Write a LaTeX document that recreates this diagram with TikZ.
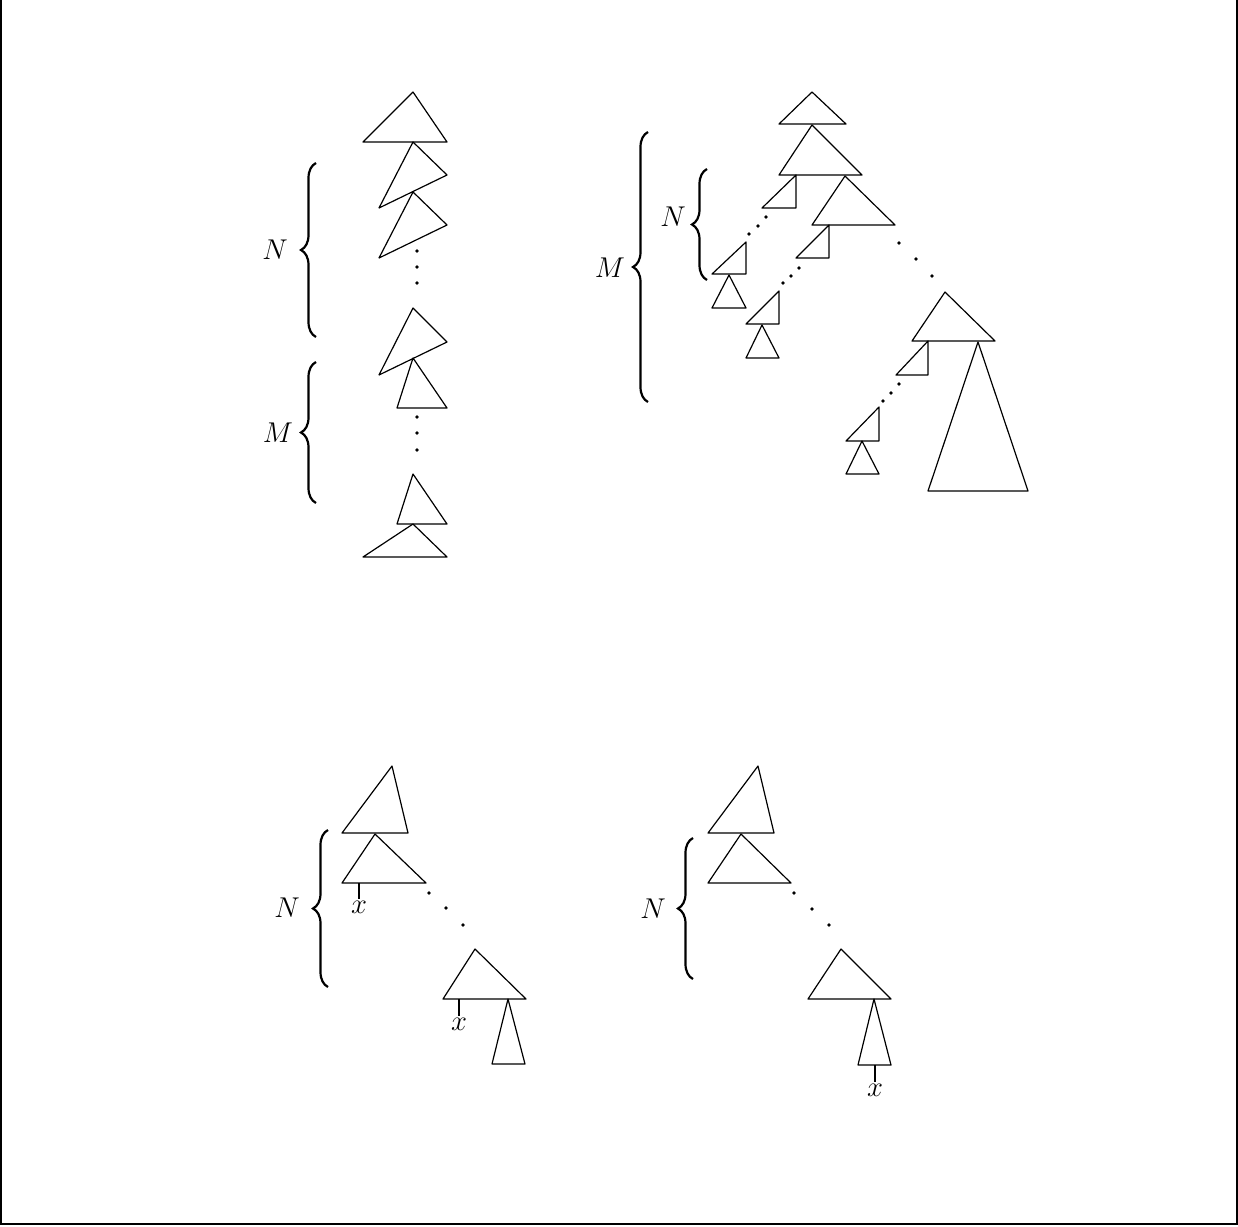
\documentclass[tikz,border=0pt]{standalone}
\usepackage{amsmath,amssymb}
\usepackage{graphicx}
\usetikzlibrary{decorations.pathreplacing}
\newcommand{\lab}[1]{\scalebox{1.15}{$#1$}}

\begin{document}
\begin{tikzpicture}[x=1pt, y=-1pt,
  tri/.style={draw, line width=1.2pt, line join=round},
  stem/.style={draw, line width=1.6pt},
  brc/.style={decorate, decoration={brace, amplitude=15pt}, line width=2.2pt},
  lbl/.style={font=\fontsize{24.88}{30}\selectfont, inner sep=0pt},
  xlbl/.style={font=\fontsize{24.88}{30}\selectfont, anchor=north, inner sep=1pt}]
\useasboundingbox (0,0) rectangle (1238,1226);
\draw[line width=1.5pt] (1,0) -- (1,1224) -- (1237,1224) -- (1237,0);

% top left: chain of rotated subtrees
\draw[tri] (413,92) -- (363,142) -- (447,142) -- cycle;
\draw[tri] (413,142) -- (447,175) -- (379,208) -- cycle;
\draw[tri] (413,192) -- (447,225) -- (379,258) -- cycle;
\foreach \y in {251,267,283} \fill (417,\y) circle (1.8pt);
\draw[tri] (413,308) -- (447,342) -- (379,375) -- cycle;
\draw[tri] (413,358) -- (397,408) -- (447,408) -- cycle;
\foreach \y in {417,433,450} \fill (417,\y) circle (1.8pt);
\draw[tri] (413,474) -- (397,524) -- (447,524) -- cycle;
\draw[tri] (413,524) -- (363,557) -- (447,557) -- cycle;
\draw[brc] (316,337) -- (316,163);
\draw[brc] (316,503) -- (316,362);
\node[lbl] (nl) at (275,250) {\lab{N}};
\node[lbl] (ml) at (278,433) {\lab{M}};

% top right: spine with hanging paths
\draw[tri] (812,92) -- (779,124) -- (846,124) -- cycle;
\draw[tri] (812,125) -- (779,175) -- (862,175) -- cycle;
\draw[tri] (845,176) -- (812,225) -- (895,225) -- cycle;
\draw[tri] (796,175) -- (796,208) -- (762,208) -- cycle;
\draw[tri] (829,225) -- (829,258) -- (796,258) -- cycle;
\foreach \x/\y in {766/217,758/226,749/234} \fill (\x,\y) circle (1.8pt);
\draw[tri] (746,242) -- (746,274) -- (712,274) -- cycle;
\draw[tri] (729,275) -- (712,308) -- (746,308) -- cycle;
\foreach \x/\y in {799/268,791/276,783/283} \fill (\x,\y) circle (1.8pt);
\draw[tri] (779,291) -- (779,324) -- (746,324) -- cycle;
\draw[tri] (762,325) -- (746,358) -- (779,358) -- cycle;
\foreach \x/\y in {899/243,916/259,932/276} \fill (\x,\y) circle (1.8pt);
\draw[tri] (945,292) -- (912,341) -- (995,341) -- cycle;
\draw[tri] (928,341) -- (928,375) -- (896,375) -- cycle;
\foreach \x/\y in {899/384,891/393,883/401} \fill (\x,\y) circle (1.8pt);
\draw[tri] (879,407) -- (879,441) -- (846,441) -- cycle;
\draw[tri] (862,441) -- (846,474) -- (879,474) -- cycle;
\draw[tri] (978,342) -- (928,491) -- (1028,491) -- cycle;
\draw[brc] (707,280) -- (707,169);
\draw[brc] (648,402) -- (648,132);
\node[lbl] (nr) at (673,217) {\lab{N}};
\node[lbl] (mr) at (610,268) {\lab{M}};

% bottom left
\draw[tri] (392,766) -- (342,833) -- (408,833) -- cycle;
\draw[tri] (375,834) -- (342,883) -- (426,883) -- cycle;
\draw[stem] (359,883) -- (359,899) node[xlbl] (xa) {\lab{x}};
\foreach \x/\y in {429/893,446/908,463/925} \fill (\x,\y) circle (1.8pt);
\draw[tri] (475,949) -- (443,999) -- (526,999) -- cycle;
\draw[stem] (459,999) -- (459,1016) node[xlbl] (xb) {\lab{x}};
\draw[tri] (508,999) -- (492,1064) -- (525,1064) -- cycle;
\draw[brc] (328,987) -- (328,830);
\node[lbl] (nbl) at (287,908) {\lab{N}};

% bottom right
\draw[tri] (758,766) -- (708,833) -- (774,833) -- cycle;
\draw[tri] (741,834) -- (708,883) -- (791,883) -- cycle;
\foreach \x/\y in {794/893,812/909,829/925} \fill (\x,\y) circle (1.8pt);
\draw[tri] (841,949) -- (808,999) -- (891,999) -- cycle;
\draw[tri] (874,999) -- (858,1065) -- (891,1065) -- cycle;
\draw[stem] (875,1065) -- (875,1082) node[xlbl] (xc) {\lab{x}};
\draw[brc] (693,979) -- (693,838);
\node[lbl] (nbr) at (653,909) {\lab{N}};
\end{tikzpicture}
\end{document}
